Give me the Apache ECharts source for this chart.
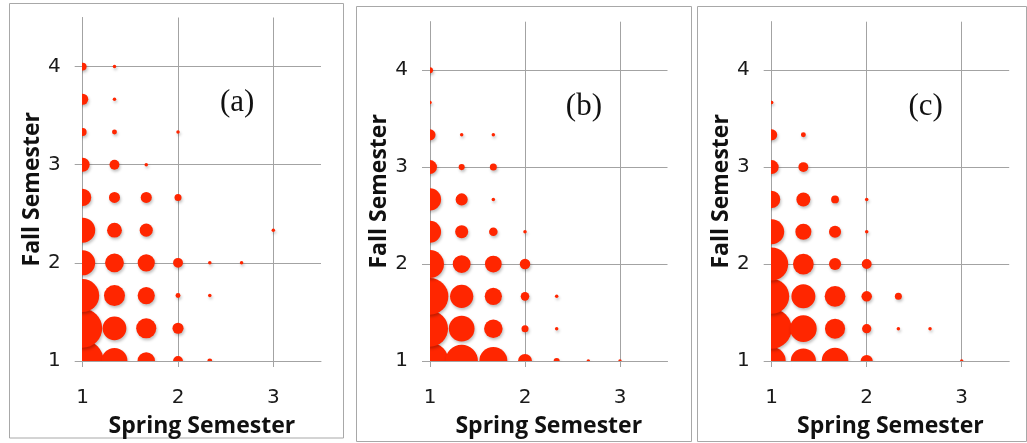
<!DOCTYPE html>
<html>
<head>
<meta charset="utf-8">
<script src="https://cdn.jsdelivr.net/npm/echarts@6/dist/echarts.min.js"></script>
<style>
html,body{margin:0;padding:0;background:#fff;}
#chart{width:1027px;height:443px;}
</style>
</head>
<body>
<div id="chart"></div>
<script>
// Spring semester values (x) and fall semester values (y)
var springVals = [1, 4/3, 5/3, 2, 7/3, 8/3, 3];
var fallVals = [1, 4/3, 5/3, 2, 7/3, 8/3, 3, 10/3, 11/3, 4];
var xTicks = [1, 2, 3];
var yTicks = [1, 2, 3, 4];
var panelLabels = ['(a)', '(b)', '(c)'];

// counts: rows = fall values (1 .. 4), cols = spring values (1 .. 3)
var countsA = [
  [144, 55, 25, 8, 2, 0, 0],
  [124, 46, 33, 10, 0, 0, 0],
  [89, 36, 24, 2, 1, 0, 0],
  [51, 29, 24, 8, 1, 1, 0],
  [51, 18, 14, 0, 0, 0, 1],
  [24, 10, 10, 4, 0, 0, 0],
  [16, 8, 1, 0, 0, 0, 0],
  [5, 2, 0, 1, 0, 0, 0],
  [10, 1, 0, 0, 0, 0, 0],
  [5, 1, 0, 0, 0, 0, 0]
];
var countsB = [
  [112, 86, 64, 16, 3, 1, 1],
  [106, 54, 28, 4, 1, 0, 0],
  [110, 44, 24, 6, 1, 0, 0],
  [64, 26, 23, 9, 0, 0, 0],
  [40, 14, 6, 1, 0, 0, 0],
  [40, 12, 1, 0, 0, 0, 0],
  [16, 3, 4, 0, 0, 0, 0],
  [10, 1, 1, 0, 0, 0, 0],
  [1, 0, 0, 0, 0, 0, 0],
  [3, 0, 0, 0, 0, 0, 0]
];
var countsC = [
  [64, 52, 58, 12, 0, 0, 1],
  [131, 58, 33, 7, 1, 1, 0],
  [100, 47, 35, 9, 4, 0, 0],
  [89, 35, 12, 8, 0, 0, 0],
  [51, 21, 12, 1, 0, 0, 0],
  [24, 16, 5, 1, 0, 0, 0],
  [16, 8, 0, 0, 0, 0, 0],
  [10, 2, 0, 0, 0, 0, 0],
  [1, 0, 0, 0, 0, 0, 0],
  [0, 0, 0, 0, 0, 0, 0]
];
var allCounts = [countsA, countsB, countsC];

function toPoints(m) {
  var pts = [];
  for (var r = 0; r < fallVals.length; r++) {
    for (var c = 0; c < springVals.length; c++) {
      if (m[r][c] > 0) pts.push([springVals[c], fallVals[r], m[r][c]]);
    }
  }
  return pts;
}

var GRID_COLOR = '#a3a3a3';
var grids = [
  {left: 82.7, top: 17.5, width: 238.3, height: 343.5},
  {left: 430, top: 21.7, width: 237.5, height: 344},
  {left: 771.7, top: 21.7, width: 237.5, height: 344}
];
var panels = [
  {x: 9.5, y: 3.5, w: 334, h: 434.5},
  {x: 356.5, y: 6.5, w: 335, h: 435},
  {x: 697.5, y: 6.5, w: 329, h: 435}
];

function renderBubble(params, api) {
  var p = api.coord([api.value(0), api.value(1)]);
  var r = 1.75 * Math.sqrt(api.value(2));
  return {
    type: 'circle',
    shape: {cx: p[0], cy: p[1], r: r},
    style: {fill: '#ff2600', shadowBlur: 3, shadowColor: 'rgba(0,0,0,0.25)', shadowOffsetX: 1, shadowOffsetY: 2}
  };
}

var xAxes = [], yAxes = [], series = [], graphics = [];
for (var i = 0; i < 3; i++) {
  xAxes.push({
    gridIndex: i, type: 'value', min: 1, max: 3.5, interval: 1,
    axisLine: {show: true, lineStyle: {color: GRID_COLOR, width: 1}},
    axisTick: {show: true, length: 6, customValues: xTicks, lineStyle: {color: GRID_COLOR, width: 1}},
    axisLabel: {customValues: xTicks, margin: 27, fontSize: 20, color: '#1a1a1a', fontFamily: 'DejaVu Sans'},
    splitLine: {show: true, lineStyle: {color: GRID_COLOR, width: 1}},
    name: 'Spring Semester', nameLocation: 'middle', nameGap: 54,
    nameTextStyle: {fontFamily: 'Open Sans', fontWeight: 'bold', fontSize: 23, color: '#111'}
  });
  yAxes.push({
    gridIndex: i, type: 'value', min: 1, max: 4.5, interval: 1,
    axisLine: {show: true, lineStyle: {color: GRID_COLOR, width: 1}},
    axisTick: {show: true, length: 8, customValues: yTicks, lineStyle: {color: GRID_COLOR, width: 1}},
    axisLabel: {customValues: yTicks, margin: 22, fontSize: 20, color: '#1a1a1a', fontFamily: 'DejaVu Sans'},
    splitLine: {show: true, lineStyle: {color: GRID_COLOR, width: 1}},
    name: 'Fall Semester', nameLocation: 'middle', nameGap: 39, nameRotate: 90,
    nameTextStyle: {fontFamily: 'Open Sans', fontWeight: 'bold', fontSize: 23, color: '#111'}
  });
  series.push({
    type: 'custom', xAxisIndex: i, yAxisIndex: i, clip: true,
    coordinateSystem: 'cartesian2d',
    encode: {x: 0, y: 1},
    data: toPoints(allCounts[i]),
    renderItem: renderBubble,
    z: 3
  });
  graphics.push({
    type: 'rect', shape: {x: panels[i].x, y: panels[i].y, width: panels[i].w, height: panels[i].h},
    style: {fill: 'none', stroke: '#a8a8a8', lineWidth: 1}, silent: true, z: -1
  });
  graphics.push({
    type: 'text',
    x: grids[i].left + grids[i].width * 0.648, y: grids[i].top + grids[i].height * 0.248,
    style: {text: panelLabels[i], font: '31px "Liberation Serif"', fill: '#111', align: 'center', verticalAlign: 'middle'},
    silent: true
  });
}

var chart = echarts.init(document.getElementById('chart'), null, {renderer: 'canvas'});
chart.setOption({
  animation: false,
  backgroundColor: '#fff',
  grid: grids,
  xAxis: xAxes,
  yAxis: yAxes,
  series: series,
  graphic: graphics
});
</script>
</body>
</html>
